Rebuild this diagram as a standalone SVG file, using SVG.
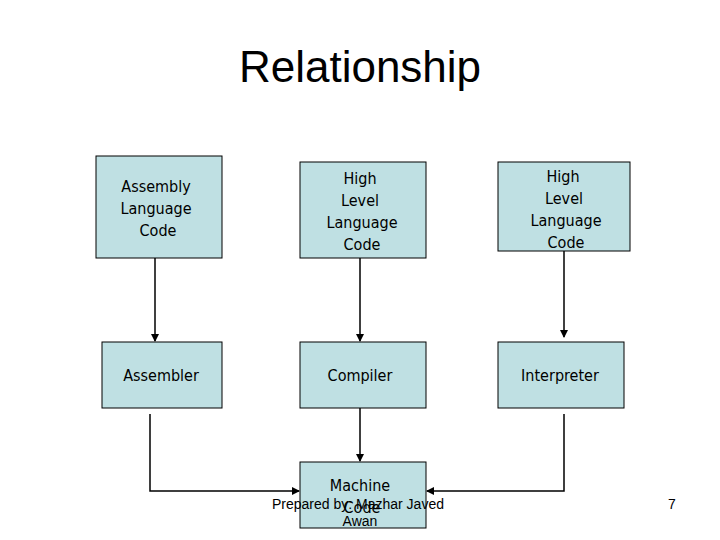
<svg xmlns="http://www.w3.org/2000/svg" width="720" height="540" viewBox="0 0 720 540">
<style>
.b{fill:#bfe0e3;stroke:#000;stroke-width:1}
.t{font-family:"DejaVu Sans Condensed","DejaVu Sans",sans-serif;font-size:16px;text-anchor:middle;fill:#000}
.c{fill:none;stroke:#000;stroke-width:1.5}
.f{font-family:"Liberation Sans",Arial,sans-serif;font-size:14px;fill:#000}
</style>
<defs><marker id="a" markerWidth="8" markerHeight="8" refX="7" refY="4" orient="auto" markerUnits="userSpaceOnUse"><path d="M0,0L8,4L0,8z" fill="#000"/></marker></defs>
<rect width="720" height="540" fill="#fff"/>
<text x="360" y="82" font-family="Liberation Sans,Arial,sans-serif" font-size="44" text-anchor="middle">Relationship</text>
<g id="connectors">
<line class="c" x1="155" y1="258" x2="155" y2="341" marker-end="url(#a)"/>
<line class="c" x1="360" y1="258" x2="360" y2="341" marker-end="url(#a)"/>
<line class="c" x1="564" y1="251" x2="564" y2="337" marker-end="url(#a)"/>
<line class="c" x1="360" y1="408" x2="360" y2="461" marker-end="url(#a)"/>
<polyline class="c" points="150,414 150,491 299,491" marker-end="url(#a)"/>
<polyline class="c" points="564,414 564,491 427,491" marker-end="url(#a)"/>
</g>
<g id="asm"><rect class="b" x="96" y="156" width="126" height="102"/><text class="t" x="156" y="192">Assembly</text><text class="t" x="156" y="214">Language</text><text class="t" x="158" y="236">Code</text></g>
<g id="hll1"><rect class="b" x="300" y="162" width="126" height="96"/><text class="t" x="360" y="184">High</text><text class="t" x="360" y="206">Level</text><text class="t" x="362" y="228">Language</text><text class="t" x="362" y="250">Code</text></g>
<g id="hll2"><rect class="b" x="498" y="162" width="132" height="89"/><text class="t" x="563" y="182">High</text><text class="t" x="564" y="204">Level</text><text class="t" x="566" y="226">Language</text><text class="t" x="566" y="248">Code</text></g>
<g id="assembler"><rect class="b" x="102" y="342" width="120" height="66"/><text class="t" x="161" y="381">Assembler</text></g>
<g id="compiler"><rect class="b" x="300" y="342" width="126" height="66"/><text class="t" x="360" y="381">Compiler</text></g>
<g id="interpreter"><rect class="b" x="498" y="342" width="126" height="66"/><text class="t" x="560" y="381">Interpreter</text></g>
<g id="machine"><rect class="b" x="300" y="462" width="126" height="66"/><text class="t" x="360" y="491">Machine</text><text class="t" x="362" y="513">Code</text></g>
<text class="f" x="272" y="509">Prepared by: Mazhar Javed</text>
<text class="f" x="360" y="526" text-anchor="middle">Awan</text>
<text class="f" x="668" y="509">7</text>
</svg>
